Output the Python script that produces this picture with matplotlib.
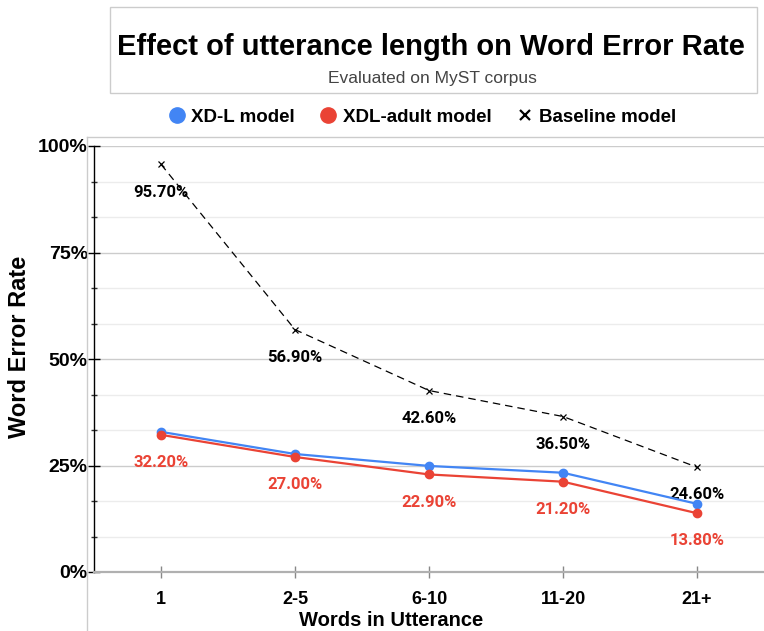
import numpy as np
import matplotlib.pyplot as plt
from matplotlib.lines import Line2D
from matplotlib.ticker import MultipleLocator, PercentFormatter

plt.rcParams['font.family'] = ['Liberation Sans', 'DejaVu Sans']

categories = ["1", "2-5", "6-10", "11-20", "21+"]
xdl = [32.9, 27.7, 24.9, 23.3, 16.0]
xdl_adult = [32.2, 27.0, 22.9, 21.2, 13.8]
baseline = [95.7, 56.9, 42.6, 36.5, 24.6]

BLUE = '#4285F4'
RED = '#EA4335'

W, H = 764, 631
fig = plt.figure(figsize=(W / 100, H / 100), dpi=100)

def fx(px):
    return px / W

def fy(py):
    return 1 - py / H

# outer chart frame and title box
fig.add_artist(Line2D([fx(87), fx(87)], [fy(137), 0], color='#cccccc', lw=1))
fig.add_artist(Line2D([fx(87), 1], [fy(137), fy(137)], color='#cccccc', lw=1))
fig.add_artist(plt.Rectangle((fx(110), fy(93)), fx(757) - fx(110), fy(7) - fy(93),
                             fill=False, edgecolor='#cccccc', lw=1, transform=fig.transFigure))

fig.text(fx(431), fy(47), "Effect of utterance length on Word Error Rate",
         ha='center', va='center', fontsize=21, fontweight='bold', color='black')
fig.text(fx(432), fy(78), "Evaluated on MyST corpus",
         ha='center', va='center', fontsize=12.5, color='#444444')

ax = fig.add_axes([fx(94), fy(572), fx(764) - fx(94), fy(146) - fy(572)])
x = np.arange(len(categories))

ax.plot(x, [v / 100 for v in baseline], color='black', lw=0.9, ls=(0, (6, 4)),
        marker='x', ms=4, mew=0.9, clip_on=False, zorder=3)
ax.plot(x, [v / 100 for v in xdl], color=BLUE, lw=1.6, marker='o', ms=6,
        clip_on=False, zorder=4)
ax.plot(x, [v / 100 for v in xdl_adult], color=RED, lw=1.6, marker='o', ms=6,
        clip_on=False, zorder=5)

lab_font = ['Roboto', 'DejaVu Sans']
for i, v in enumerate(baseline):
    ax.annotate(f"{v:.2f}%", (i, v / 100), xytext=(0, -20), textcoords='offset points',
                ha='center', va='center', fontsize=12, fontweight='bold', color='black',
                family=lab_font)
for i, v in enumerate(xdl_adult):
    ax.annotate(f"{v:.2f}%", (i, v / 100), xytext=(0, -20), textcoords='offset points',
                ha='center', va='center', fontsize=12, fontweight='bold', color=RED,
                family=lab_font)

ax.set_xlim(-0.5, 4.5)
ax.set_ylim(0, 1)
ax.set_xticks(x)
ax.set_xticklabels(categories, fontsize=13, fontweight='bold')
ax.yaxis.set_major_locator(MultipleLocator(0.25))
ax.yaxis.set_minor_locator(MultipleLocator(1 / 12))
ax.yaxis.set_major_formatter(PercentFormatter(1.0, decimals=0))
for lab in ax.get_yticklabels():
    lab.set_fontsize(14)
    lab.set_fontweight('bold')

ax.grid(which='major', axis='y', color='#cccccc', lw=1)
ax.grid(which='minor', axis='y', color='#ececec', lw=1)
ax.set_axisbelow(True)

for s in ['top', 'right']:
    ax.spines[s].set_visible(False)
ax.spines['left'].set_color('black')
ax.spines['left'].set_linewidth(1)
ax.spines['bottom'].set_color('#b0b0b0')
ax.spines['bottom'].set_linewidth(1.6)
ax.tick_params(axis='y', which='major', direction='inout', length=9, width=1, pad=0, colors='black')
ax.tick_params(axis='y', which='minor', direction='inout', length=5, width=1, color='#333333')
ax.tick_params(axis='x', direction='inout', length=9, width=1, color='#888888', pad=9)

fig.text(fx(391), fy(621), "Words in Utterance", ha='center', va='center',
         fontsize=14.5, fontweight='bold')
fig.text(fx(20), fy(347), "Word Error Rate", ha='center', va='center',
         rotation=90, fontsize=17, fontweight='bold')

handles = [
    Line2D([], [], color=BLUE, marker='o', ls='none', ms=11),
    Line2D([], [], color=RED, marker='o', ls='none', ms=11),
    Line2D([], [], color='black', marker='x', ls='none', ms=7, mew=1.6),
]
fig.legend(handles, ["XD-L model", "XDL-adult model", "Baseline model"],
           loc='center', bbox_to_anchor=(fx(421), fy(117)), ncol=3, frameon=False,
           prop={'weight': 'bold', 'size': 13.5}, handletextpad=0.15, columnspacing=1.2,
           handlelength=1.2)

fig.savefig("out.png", dpi=100)
